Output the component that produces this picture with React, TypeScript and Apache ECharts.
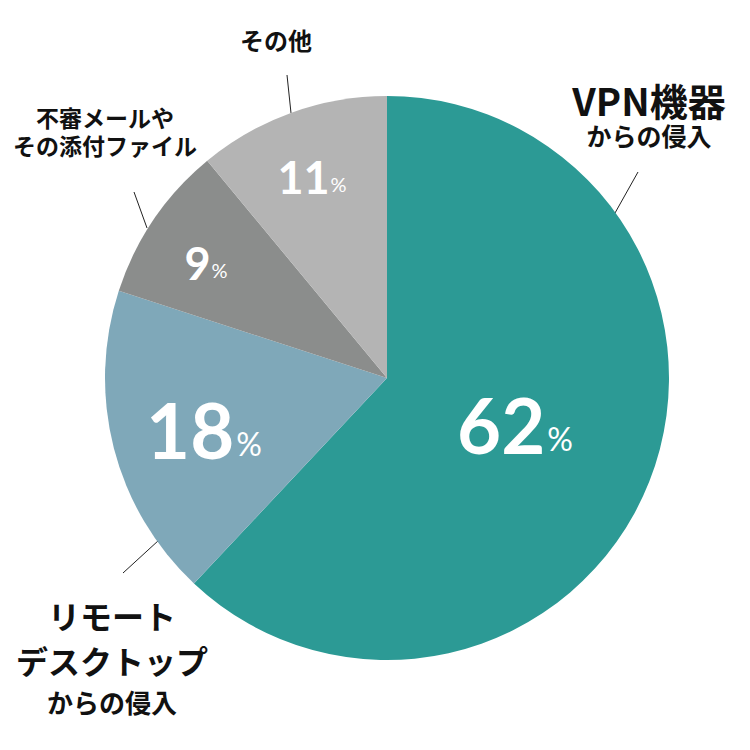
import React, { useEffect, useRef } from "react";
import * as echarts from "echarts";

const categories = ["VPN機器からの侵入", "リモートデスクトップからの侵入", "不審メールやその添付ファイル", "その他"];
const values = [62, 18, 9, 11];
const outerLabels = [
  "{a|VPN機器}\n{b|からの侵入}",
  "{a2|リモート}\n{a2|デスクトップ}\n{b2|からの侵入}",
  "{c|不審メールや}\n{c|その添付ファイル}",
  "{d|その他}",
];
const sliceColors = ["#2c9a95", "#7fa8b9", "#8b8d8c", "#b4b4b4"];

// label layout (pixel positions of label centres and leader lines)
const innerPos = [
  [515, 422, "big"],
  [204, 427, "big"],
  [206, 261, "small"],
  [312, 175, "small"],
];
const outerPos = [
  { x: 649, y: 114, line: [[615, 213], [638, 172]] },
  { x: 112, y: 656, line: [[159, 540], [123, 573]] },
  { x: 105, y: 131, line: [[147, 228], [134, 192]] },
  { x: 276, y: 39, line: [[291, 113], [287, 75]] },
];

const FONT = "'Noto Sans CJK JP', 'Noto Sans', sans-serif";
const NUMFONT = "Lato, 'Noto Sans', sans-serif";

export default function App() {
  const ref = useRef<HTMLDivElement>(null);
  useEffect(() => {
    const chart = echarts.init(ref.current!, null, { renderer: "svg" });
    const data = categories.map((name, i) => ({
      name,
      value: values[i],
      itemStyle: { color: sliceColors[i] },
    }));
    chart.setOption({
      animation: false,
      backgroundColor: "#ffffff",
      series: [
        {
          type: "pie",
          center: [387, 378],
          radius: 282,
          startAngle: 90,
          clockwise: true,
          silent: true,
          data,
          itemStyle: { borderWidth: 0 },
          label: {
            show: true,
            position: "inside",
            formatter: (p: any) =>
              innerPos[p.dataIndex][2] === "big"
                ? `{n|${p.value}}{p|%}`
                : `{ns|${p.value}}{ps|%}`,
            rich: {
              n: { fontFamily: NUMFONT, fontWeight: "bold", fontSize: 76, color: "#fff", lineHeight: 80, verticalAlign: "bottom" },
              p: { fontFamily: NUMFONT, fontWeight: "normal", fontSize: 32, color: "#fff", lineHeight: 32, verticalAlign: "bottom", padding: [0, 0, 8, 2] },
              ns: { fontFamily: NUMFONT, fontWeight: "bold", fontSize: 45, color: "#fff", lineHeight: 48, verticalAlign: "bottom" },
              ps: { fontFamily: NUMFONT, fontWeight: "normal", fontSize: 20, color: "#fff", lineHeight: 20, verticalAlign: "bottom", padding: [0, 0, 5, 1] },
            },
          },
          labelLayout: (p: any) => ({
            x: innerPos[p.dataIndex][0],
            y: innerPos[p.dataIndex][1],
            align: "center",
            verticalAlign: "middle",
          }),
          labelLine: { show: false },
        },
        {
          type: "pie",
          center: [387, 378],
          radius: 282,
          startAngle: 90,
          clockwise: true,
          silent: true,
          data: categories.map((name, i) => ({
            name,
            value: values[i],
            itemStyle: { color: "transparent" },
          })),
          label: {
            show: true,
            position: "outside",
            overflow: "none",
            alignTo: "none",
            color: "#111",
            align: "center",
            formatter: (p: any) => outerLabels[p.dataIndex],
            rich: {
              a: { fontFamily: FONT, fontWeight: "bold", fontSize: 38, color: "#111", lineHeight: 42, align: "center" },
              b: { fontFamily: FONT, fontWeight: "bold", fontSize: 25, color: "#111", lineHeight: 30, align: "center" },
              a2: { fontFamily: FONT, fontWeight: "bold", fontSize: 32, color: "#111", lineHeight: 45, align: "center" },
              b2: { fontFamily: FONT, fontWeight: "bold", fontSize: 26, color: "#111", lineHeight: 38, align: "center" },
              c: { fontFamily: FONT, fontWeight: "bold", fontSize: 23, color: "#111", lineHeight: 28, align: "center" },
              d: { fontFamily: FONT, fontWeight: "bold", fontSize: 24, color: "#111", lineHeight: 28, align: "center" },
            },
          },
          labelLine: { show: true, lineStyle: { color: "#222", width: 1 } },
          labelLayout: (p: any) => {
            const o = outerPos[p.dataIndex];
            return {
              x: o.x,
              y: o.y,
              align: "center",
              verticalAlign: "middle",
              labelLinePoints: [o.line[0], o.line[1], o.line[1]],
            };
          },
        },
      ],
    });
    return () => chart.dispose();
  }, []);
  return <div ref={ref} style={{ width: 750, height: 750, margin: -8 }} />;
}
